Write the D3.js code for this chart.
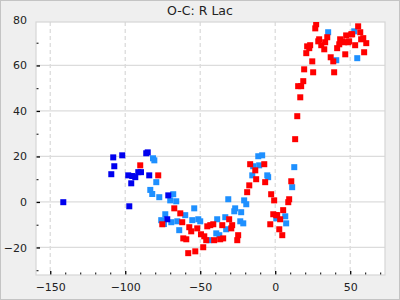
<!DOCTYPE html>
<html>
<head>
<meta charset="utf-8">
<script src="https://cdn.jsdelivr.net/npm/d3@7"></script>
<style>
  body { margin: 0; background: #fff; }
  svg { display: block; font-family: "DejaVu Sans", sans-serif; }
</style>
</head>
<body>
<svg id="chart"></svg>
<script>
// O-C values (epoch, days)
const redPoints = [
  [-90.0, 16.1], [-78.0, 11.7], [-75.3, -9.8], [-67.3, -2.8], [-63.3, -5.0], [-62.0, -8.9],
  [-61.3, -16.0], [-59.3, -16.4], [-58.0, -22.5], [-57.3, -11.1], [-56.0, -12.9], [-53.3, -21.7],
  [-52.0, -11.6], [-49.5, -14.2], [-48.0, -19.9], [-47.3, -15.1], [-46.0, -16.8], [-45.3, -10.7],
  [-43.3, -10.2], [-41.3, -9.8], [-40.7, -16.8], [-36.7, -16.4], [-35.3, -10.2], [-34.7, -16.0],
  [-30.7, -7.6], [-29.3, -11.6], [-28.7, -10.2], [-25.3, -16.8], [-24.7, -14.6], [-18.7, 4.3],
  [-17.3, 7.3], [-16.7, 16.6], [-13.3, 13.9], [-12.7, 10.0], [-7.3, 16.6], [-6.7, 8.7],
  [-3.3, -9.8], [-2.7, 3.4], [-1.3, -5.4], [-0.7, 0.7], [0.7, -5.8], [1.3, -5.8],
  [2.7, -12.0], [3.3, -7.6], [4.7, -14.6], [5.3, -3.6], [8.7, -0.1], [9.3, 1.2],
  [10.7, 9.1], [13.3, 27.6], [14.7, 37.7], [15.3, 50.9], [16.7, 46.0], [17.3, 50.9],
  [18.7, 53.1], [19.3, 58.3], [20.7, 65.4], [21.3, 68.4], [22.7, 67.6], [23.3, 68.9],
  [24.7, 61.8], [25.3, 57.0], [26.7, 76.3], [27.3, 78.1], [28.7, 70.6], [29.3, 71.5],
  [30.7, 68.9], [32.7, 67.1], [33.3, 70.2], [34.7, 72.4], [37.0, 63.6], [38.7, 61.8],
  [39.3, 57.0], [41.3, 67.6], [42.7, 69.3], [43.3, 71.5], [44.7, 70.6], [46.0, 70.2],
  [46.7, 64.9], [47.3, 73.2], [48.7, 70.2], [49.3, 70.6], [50.7, 73.7], [51.3, 73.7],
  [53.3, 68.9], [55.3, 77.2], [56.7, 74.6], [57.3, 71.5], [58.7, 72.0], [59.3, 65.8],
  [60.7, 69.8]
];

const bluePoints = [
  [-141.3, -0.1], [-109.3, 12.2], [-108.0, 19.6], [-107.3, 15.7], [-102.0, 20.5], [-98.0, 11.7],
  [-97.3, -1.9], [-96.0, 8.2], [-95.3, 11.4], [-93.3, 10.9], [-91.3, 13.1], [-89.5, 13.1],
  [-86.0, 21.4], [-85.0, 21.8], [-84.0, 11.7], [-72.0, -7.6], [-71.3, 2.9]
];

const lightBluePoints = [
  [-83.3, 5.3], [-82.0, 3.5], [-81.5, 19.2], [-80.6, 18.3], [-79.3, 8.7], [-77.3, 2.1],
  [-76.0, -8.0], [-74.2, -9.7], [-73.3, -5.4], [-70.0, 0.7], [-69.3, -8.9], [-68.0, 3.4],
  [-66.0, 0.3], [-65.3, -8.5], [-64.0, -12.4], [-60.0, -5.8], [-55.3, -8.0], [-54.0, -2.8],
  [-51.3, -7.6], [-50.0, -8.5], [-44.0, -16.8], [-39.3, -13.8], [-38.7, -7.6], [-37.3, -14.6],
  [-33.3, -6.7], [-32.7, -12.0], [-31.3, 1.2], [-27.3, -4.1], [-26.7, -2.8], [-23.3, -8.5],
  [-22.7, -4.5], [-21.3, -9.4], [-20.7, 0.7], [-19.3, -1.0], [-15.3, 11.7], [-14.7, 15.7],
  [-11.3, 20.1], [-10.7, 16.1], [-8.7, 20.5], [-5.3, 11.7], [-4.7, 10.9], [0.7, -7.2],
  [6.7, -6.3], [7.3, -9.4], [11.3, 6.5], [12.7, 15.3], [35.3, 74.6], [40.7, 62.3],
  [52.7, 75.0], [54.7, 63.2]
];

const xTicks = [-150, -100, -50, 0, 50];
const yTicks = [-20, 0, 20, 40, 60, 80];
const title = "O-C: R Lac";

const W = 400, H = 300;
const margin = { top: 22, right: 15, bottom: 25, left: 36 };
const width = W - margin.left - margin.right,
    height = H - margin.top - margin.bottom;

const svg = d3.select("#chart")
    .attr("width", W)
    .attr("height", H);

// background + outer frame
svg.append("rect")
    .attr("x", 0.5).attr("y", 0.5)
    .attr("width", W - 1).attr("height", H - 1)
    .attr("fill", "#efefef")
    .attr("stroke", "#c4c4c4");

svg.append("text")
    .attr("x", W / 2)
    .attr("y", 15)
    .attr("text-anchor", "middle")
    .attr("font-size", 12.5)
    .attr("fill", "#222")
    .text(title);

const g = svg.append("g")
    .attr("transform", `translate(${margin.left},${margin.top})`);

const x = d3.scaleLinear()
    .domain([-159.5, 73.2])
    .range([0, width]);

const y = d3.scaleLinear()
    .domain([-32.1, 79.1])
    .range([height, 0]);

g.append("rect")
    .attr("width", width)
    .attr("height", height)
    .attr("fill", "#fff");

g.append("clipPath").attr("id", "plot-clip")
  .append("rect").attr("width", width).attr("height", height);

// grid
g.append("g")
    .selectAll("line")
    .data(yTicks.filter(d => d > y.domain()[0] && d < y.domain()[1]))
    .join("line")
    .attr("x1", 0).attr("x2", width)
    .attr("y1", d => y(d)).attr("y2", d => y(d))
    .attr("stroke", "#dcdcdc")
    .attr("stroke-width", 1.3);

g.append("g")
    .selectAll("line")
    .data(xTicks)
    .join("line")
    .attr("x1", d => x(d)).attr("x2", d => x(d))
    .attr("y1", 0).attr("y2", height)
    .attr("stroke", "#dcdcdc")
    .attr("stroke-width", 1.3)
    .attr("stroke-dasharray", "4,3");

// minor ticks every 10
const xMinor = d3.range(-150, 71, 10).filter(d => !xTicks.includes(d));
const yMinor = d3.range(-30, 80, 10).filter(d => !yTicks.includes(d));

g.append("g")
    .attr("transform", `translate(0,${height})`)
    .call(d3.axisBottom(x).tickValues(xMinor).tickSize(-2.5).tickFormat(""))
    .call(a => a.select(".domain").remove());

g.append("g")
    .call(d3.axisLeft(y).tickValues(yMinor).tickSize(-2.5).tickFormat(""))
    .call(a => a.select(".domain").remove());

// major ticks + labels
const xAxis = g.append("g")
    .attr("transform", `translate(0,${height})`)
    .call(d3.axisBottom(x).tickValues(xTicks).tickSize(-4).tickPadding(8).tickFormat(d3.format("d")))
    .call(a => a.select(".domain").remove());
xAxis.selectAll("line").attr("stroke-width", 1.3);
xAxis.selectAll("text").attr("font-size", 11).attr("fill", "#222")
    .attr("font-family", "DejaVu Sans");

const yAxis = g.append("g")
    .call(d3.axisLeft(y).tickValues(yTicks).tickSize(-4).tickPadding(9).tickFormat(d3.format("d")))
    .call(a => a.select(".domain").remove());
yAxis.selectAll("line").attr("stroke-width", 1.3)
    .attr("display", d => d > y.domain()[1] ? "none" : null);
yAxis.selectAll("text").attr("font-size", 11).attr("fill", "#222")
    .attr("font-family", "DejaVu Sans");

// plot border
g.append("rect")
    .attr("width", width)
    .attr("height", height)
    .attr("fill", "none")
    .attr("stroke", "#d6d6d6")
    .attr("stroke-width", 1.2);

// points
const s = 6;
const pts = g.append("g").attr("clip-path", "url(#plot-clip)");

function drawSeries(data, color) {
    pts.append("g")
        .selectAll("rect")
        .data(data)
        .join("rect")
        .attr("x", d => x(d[0]) - s / 2)
        .attr("y", d => y(d[1]) - s / 2)
        .attr("width", s)
        .attr("height", s)
        .attr("fill", color);
}

drawSeries(lightBluePoints, "#1e90ff");
drawSeries(bluePoints, "#0000ee");
drawSeries(redPoints, "#ff0000");
</script>
</body>
</html>
